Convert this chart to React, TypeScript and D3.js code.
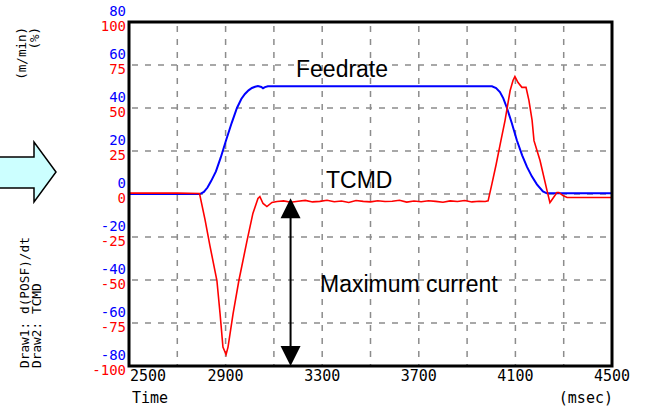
import React from "react";
import * as d3 from "d3";

// time axis (msec)
const xTicks = [2500, 2900, 3300, 3700, 4100, 4500];
// left scales: red = TCMD (%), blue = feedrate (m/min)
const redTicks = [100, 75, 50, 25, 0, -25, -50, -75, -100];
const blueTicks = [80, 60, 40, 20, 0, -20, -40, -60, -80];

// Draw1: d(POSF)/dt  (m/min)
const feedTime = [
  2500, 2700, 2794, 2810, 2825, 2840, 2860, 2880, 2902, 2925, 2947, 2965, 2980,
  2995, 3009, 3022, 3034, 3048, 3055, 3063, 3075, 4003, 4020, 4036, 4050, 4065,
  4085, 4106, 4128, 4148, 4168, 4189, 4214, 4230, 4500,
];
const feedrate = [
  0, 0, 0, 1.0, 3.0, 6.0, 10.5, 17, 25, 33, 40, 44.2, 46.5, 48.2, 49.3, 49.9,
  50.2, 49.8, 49.2, 49.7, 50.1, 50.1, 49.3, 47.4, 44.5, 40, 33, 25, 18, 12.6,
  8.2, 4.5, 1.2, 0.3, 0.3,
];

// Draw2: TCMD (%)
const tcmdTime = [
  2500, 2600, 2700, 2792, 2815, 2835, 2864, 2877, 2889, 2902, 2910, 2931, 2955,
  2989, 3013, 3034, 3042, 3055, 3071, 3092, 3113, 3140, 3170, 3200, 3230, 3260,
  3290, 3320, 3350, 3380, 3410, 3440, 3470, 3500, 3530, 3560, 3590, 3620, 3650,
  3680, 3710, 3740, 3770, 3800, 3830, 3860, 3890, 3920, 3950, 3975, 3987, 4003,
  4020, 4040, 4057, 4078, 4090, 4098, 4111, 4127, 4144, 4156, 4169, 4177, 4202,
  4231, 4243, 4255, 4272, 4280, 4297, 4314, 4400, 4500,
];
const tcmd = [
  0.5, 0.5, 0.5, 0.3, -15, -30, -50.3, -69.5, -89, -93.3, -89, -69.5, -50.3,
  -27, -11.3, -2.6, -1.5, -5.5, -7.3, -4.9, -4.4, -4.0, -4.8, -4.2, -3.7, -4.6,
  -4.3, -3.6, -4.5, -4.1, -4.9, -3.8, -4.3, -4.6, -3.9, -4.4, -4.2, -3.6, -4.7,
  -4.1, -4.5, -3.9, -4.3, -4.8, -4.0, -4.4, -3.8, -4.6, -4.2, -4.4, -4, 6, 17,
  31, 42.7, 60, 66, 68.3, 64.8, 62, 62, 54.4, 43, 31, 19.5, 2, -5, -2.6, 0.9,
  0.9, -0.9, -2, -2, -2,
];

// "Maximum current" arrow
const arrowTime = 3169;
const arrowFrom = -2.5;
const arrowTo = -100;

const W = 647;
const H = 414;
const margin = { top: 22, right: 35, bottom: 48, left: 129 };

const monoFont = "'DejaVu Sans Mono', monospace";
const sansFont = "'Liberation Sans', Arial, sans-serif";

export default function App() {
  const x = d3
    .scaleLinear()
    .domain([2500, 4500])
    .range([margin.left, W - margin.right]);
  const yRed = d3
    .scaleLinear()
    .domain([-100, 100])
    .range([H - margin.bottom, margin.top]);
  const yBlue = d3
    .scaleLinear()
    .domain([-80, 80])
    .range([H - margin.bottom, margin.top]);

  const feedLine = d3
    .line<number>()
    .x((d, i) => x(feedTime[i]))
    .y((d) => yBlue(d));
  const tcmdLine = d3
    .line<number>()
    .x((d, i) => x(tcmdTime[i]))
    .y((d) => yRed(d));

  const gridX = d3.range(2700, 4500, 200);
  const gridY = redTicks.slice(1, -1);

  const ax = x(arrowTime);
  const aTop = yRed(arrowFrom);
  const aBot = yRed(arrowTo);
  const hw = 10;
  const hh = 20;

  return (
    <svg
      width={W}
      height={H}
      style={{ position: "absolute", left: 0, top: 0, background: "#fff" }}
    >
      {/* cyan arrow on the left */}
      <polygon
        points="-2,157 34,157 34,142 56,172 34,202 34,188 -2,188"
        fill="#ccffff"
        stroke="#000"
        strokeWidth={1.5}
      />

      {/* unit labels */}
      <g fontFamily={monoFont} fontSize={12.5} fill="#000">
        <text
          transform="translate(21.5,27) rotate(-90)"
          textAnchor="end"
          dominantBaseline="central"
        >
          (m/min)
        </text>
        <text
          transform="translate(34,27) rotate(-90)"
          textAnchor="end"
          dominantBaseline="central"
        >
          (%)
        </text>
        <text
          transform="translate(24,368) rotate(-90)"
          dominantBaseline="central"
          fontSize={12.8}
        >
          Draw1: d(POSF)/dt
        </text>
        <text
          transform="translate(36,368) rotate(-90)"
          dominantBaseline="central"
          fontSize={12.8}
        >
          Draw2: TCMD
        </text>
      </g>

      {/* grid */}
      <g stroke="#8c8c8c" strokeWidth={1.5} strokeDasharray="6 7">
        {gridX.map((t) => (
          <line
            key={"gx" + t}
            x1={x(t)}
            x2={x(t)}
            y1={margin.top + 4}
            y2={H - margin.bottom}
          />
        ))}
        {gridY.map((v) => (
          <line
            key={"gy" + v}
            x1={margin.left + 3}
            x2={W - margin.right}
            y1={yRed(v)}
            y2={yRed(v)}
          />
        ))}
      </g>

      {/* y labels */}
      <g fontFamily={monoFont} fontSize={14} textAnchor="end">
        {redTicks.map((v) => (
          <text
            key={"r" + v}
            x={126}
            y={yRed(v) + 4}
            fill="#ff0000"
            dominantBaseline="central"
          >
            {v}
          </text>
        ))}
        {blueTicks.map((v) => (
          <text
            key={"b" + v}
            x={126}
            y={yBlue(v) - 11}
            fill="#0000ff"
            dominantBaseline="central"
          >
            {v}
          </text>
        ))}
      </g>

      {/* x labels */}
      <g fontFamily={monoFont} fontSize={15} fill="#000">
        {xTicks.map((t, i) => (
          <text
            key={"x" + t}
            x={i === 0 ? x(t) + 1 : x(t)}
            y={376}
            textAnchor={i === 0 ? "start" : "middle"}
            dominantBaseline="central"
          >
            {t}
          </text>
        ))}
        <text x={132} y={398} dominantBaseline="central">
          Time
        </text>
        <text x={613} y={398} textAnchor="end" dominantBaseline="central">
          (msec)
        </text>
      </g>

      {/* series */}
      <path
        d={feedLine(feedrate) || ""}
        fill="none"
        stroke="#0000ff"
        strokeWidth={2}
      />
      <path
        d={tcmdLine(tcmd) || ""}
        fill="none"
        stroke="#ff0000"
        strokeWidth={1.6}
      />

      {/* frame */}
      <rect
        x={margin.left}
        y={margin.top}
        width={W - margin.left - margin.right}
        height={H - margin.top - margin.bottom}
        fill="none"
        stroke="#000"
        strokeWidth={3}
      />

      {/* annotations */}
      <line
        x1={ax}
        x2={ax}
        y1={aTop + hh - 2}
        y2={aBot - hh + 2}
        stroke="#000"
        strokeWidth={2}
      />
      <polygon
        points={`${ax},${aTop} ${ax - hw},${aTop + hh} ${ax + hw},${aTop + hh}`}
        fill="#000"
      />
      <polygon
        points={`${ax},${aBot} ${ax - hw},${aBot - hh} ${ax + hw},${aBot - hh}`}
        fill="#000"
      />
      <g fontFamily={sansFont} fontSize={23} fill="#000">
        <text x={296} y={77}>
          Feedrate
        </text>
        <text x={326} y={188}>
          TCMD
        </text>
        <text x={320} y={292}>
          Maximum current
        </text>
      </g>
    </svg>
  );
}
